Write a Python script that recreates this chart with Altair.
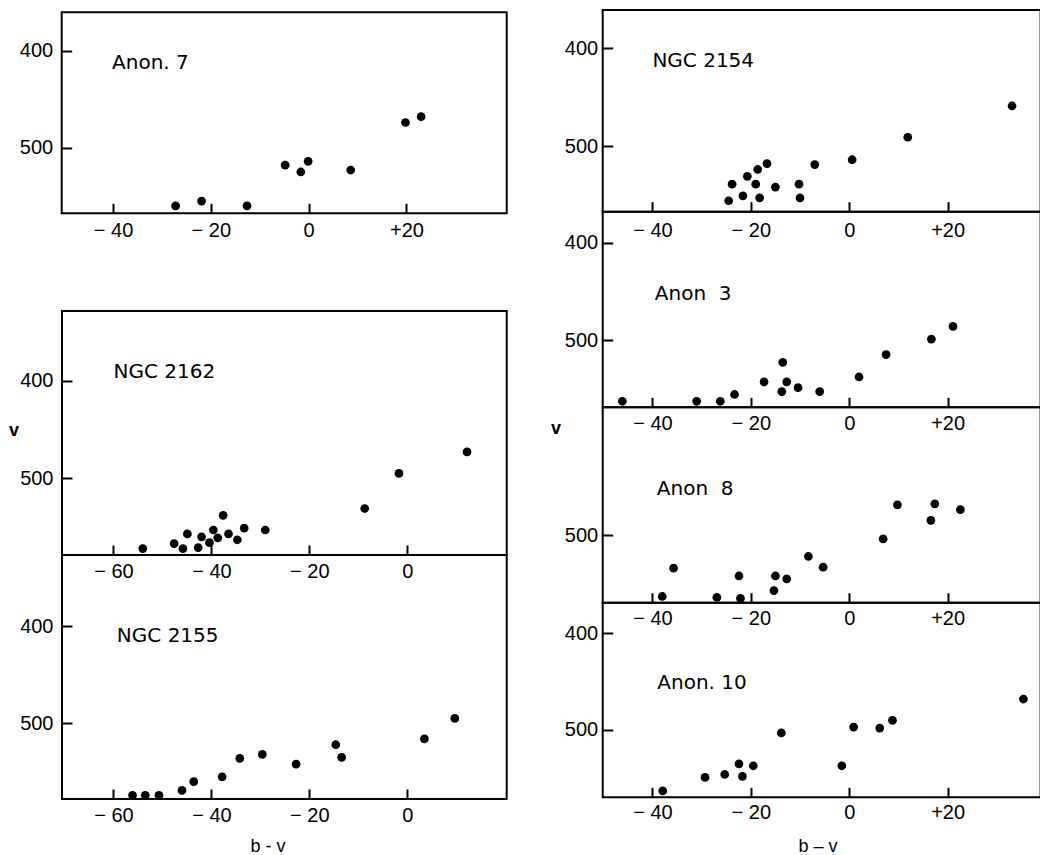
import altair as alt
import pandas as pd

# ---------------- data ----------------
panel_names = ["Anon. 7", "NGC 2162", "NGC 2155", "NGC 2154", "Anon\u00a0 3", "Anon\u00a0 8", "Anon. 10"]

anon7_bv = [-27.2, -21.9, -12.6, -4.8, -1.6, -0.1, 8.6, 19.8, 23.0]
anon7_v = [560, 555, 560, 518, 525, 514, 523, 474, 468]

ngc2162_bv = [-54.0, -47.6, -45.8, -44.9, -42.7, -42.0, -40.4, -39.6, -38.7,
              -37.6, -36.5, -34.7, -33.3, -29.0, -8.7, -1.7, 12.2]
ngc2162_v = [572, 567, 572, 557, 571, 560, 566, 553, 561,
             538, 557, 563, 551, 553, 531, 495, 473]

ngc2155_bv = [-56.1, -53.5, -50.7, -46.0, -43.6, -37.8, -34.2, -29.6, -22.7,
              -14.6, -13.4, 3.5, 9.7]
ngc2155_v = [574, 574, 574, 569, 560, 555, 536, 532, 542, 522, 535, 516, 495]

ngc2154_bv = [-24.5, -23.8, -21.6, -20.7, -19.0, -18.6, -18.2, -16.7, -15.0,
              -10.2, -10.0, -7.0, 0.6, 11.9, 33.1]
ngc2154_v = [556, 539, 551, 531, 539, 524, 553, 518, 542, 539, 553, 519, 514, 491, 459]

anon3_bv = [-46.1, -31.0, -26.2, -23.3, -17.3, -13.5, -13.7, -12.7, -10.4,
            -6.0, 2.0, 7.5, 16.7, 21.1]
anon3_v = [563, 563, 563, 556, 543, 523, 553, 543, 549, 553, 538, 515, 499, 486]

anon8_bv = [-38.0, -35.7, -26.9, -22.4, -22.1, -15.3, -15.0, -12.7, -8.3,
            -5.3, 6.9, 9.8, 16.6, 17.4, 22.6]
anon8_v = [563, 534, 564, 542, 565, 557, 542, 545, 522, 533, 504, 469, 485, 468, 474]

anon10_bv = [-37.9, -29.3, -25.3, -22.4, -21.7, -19.5, -13.8, -1.5, 0.9, 6.2, 8.8, 35.4]
anon10_v = [563, 549, 546, 535, 548, 537, 503, 537, 497, 498, 490, 468]

ticks_x_a = [-40, -20, 0, 20]
ticks_x_b = [-60, -40, -20, 0]
ticks_v = [400, 500]
ticks_v_b = [500]

# ---------------- layout (pixels of the page) ----------------
W, H = 1040, 855
TICK_FONT = "Liberation Sans"
NAME_FONT = "DejaVu Sans"
NB = "\u00a0"
LABEL_EXPR = (
    "datum.value < 0 ? '\u2212 ' + abs(datum.value) + '" + NB * 3 + "' : "
    "(datum.value > 0 ? '+' + datum.value + '" + NB * 2 + "' : '0')"
)

panels = [
    dict(bv=anon7_bv, v=anon7_v, name=0, xdom=[-50.5, 40.5], xr=[61.7, 506.7],
         vdom=[360.4, 567.6], yr=[12.3, 213.3], xt=ticks_x_a, yt=ticks_v,
         lx=-40.2, lv=413, ypad=9, xpad=7),
    dict(bv=ngc2162_bv, v=ngc2162_v, name=1, xdom=[-70.5, 20.3], xr=[62.0, 506.7],
         vdom=[328.6, 578.6], yr=[311.0, 555.0], xt=ticks_x_b, yt=ticks_v,
         lx=-60.0, lv=391, ypad=9, xpad=6),
    dict(bv=ngc2155_bv, v=ngc2155_v, name=2, xdom=[-70.5, 20.3], xr=[62.0, 506.7],
         vdom=[327.0, 577.8], yr=[555.0, 799.0], xt=ticks_x_b, yt=ticks_v,
         lx=-59.3, lv=410, ypad=9, xpad=6),
    dict(bv=ngc2154_bv, v=ngc2154_v, name=3, xdom=[-50.1, 38.9], xr=[602.7, 1040.6],
         vdom=[360.8, 567.2], yr=[10.0, 211.7], xt=ticks_x_a, yt=ticks_v,
         lx=-40.0, lv=413.5, ypad=5, xpad=9),
    dict(bv=anon3_bv, v=anon3_v, name=4, xdom=[-50.1, 38.9], xr=[602.7, 1040.6],
         vdom=[368.0, 569.2], yr=[211.7, 407.3], xt=ticks_x_a, yt=ticks_v,
         lx=-39.5, lv=452.5, ypad=5, xpad=6),
    dict(bv=anon8_bv, v=anon8_v, name=5, xdom=[-50.1, 38.9], xr=[602.7, 1040.6],
         vdom=[369.0, 569.4], yr=[407.3, 602.7], xt=ticks_x_a, yt=ticks_v_b,
         lx=-39.1, lv=453, ypad=5, xpad=6),
    dict(bv=anon10_bv, v=anon10_v, name=6, xdom=[-50.1, 38.9], xr=[602.7, 1040.6],
         vdom=[368.4, 569.6], yr=[602.7, 797.3], xt=ticks_x_a, yt=ticks_v,
         lx=-39.0, lv=451.7, ypad=5, xpad=5),
]


def make_panel(p):
    xsc = alt.Scale(domain=p["xdom"], range=p["xr"], nice=False, zero=False)
    ysc = alt.Scale(domain=p["vdom"], range=p["yr"], nice=False, zero=False)
    xax = alt.Axis(orient="bottom", values=p["xt"], offset=p["yr"][1] - 10 - H,
                   tickSize=10, tickWidth=2, tickColor="black", domain=False, grid=False,
                   labelExpr=LABEL_EXPR, labelFont=TICK_FONT, labelFontSize=20,
                   labelColor="black", labelPadding=p["xpad"], labelFlush=False,
                   labelOverlap=False, title=None)
    yax = alt.Axis(orient="left", values=p["yt"], offset=-(p["xr"][0] + 10),
                   tickSize=10, tickWidth=2, tickColor="black", domain=False, grid=False,
                   format="d", labelFont=TICK_FONT, labelFontSize=20,
                   labelColor="black", labelPadding=p["ypad"], labelFlush=False,
                   labelOverlap=False, title=None)

    pts_df = pd.DataFrame({"bv": p["bv"], "v": p["v"]})
    pts = alt.Chart(pts_df).mark_circle(size=76, color="black", opacity=1).encode(
        x=alt.X("bv:Q", scale=xsc, axis=xax),
        y=alt.Y("v:Q", scale=ysc, axis=yax))

    box_df = pd.DataFrame({"x0": [p["xdom"][0]], "x1": [p["xdom"][1]],
                           "v0": [p["vdom"][0]], "v1": [p["vdom"][1]]})
    box = alt.Chart(box_df).mark_rect(fill="white", fillOpacity=0, stroke="black",
                                      strokeWidth=2).encode(
        x=alt.X("x0:Q", scale=xsc, axis=xax), x2="x1:Q",
        y=alt.Y("v0:Q", scale=ysc, axis=yax), y2="v1:Q")

    lab_df = pd.DataFrame({"bv": [p["lx"]], "v": [p["lv"]],
                           "t": [panel_names[p["name"]]]})
    lab = alt.Chart(lab_df).mark_text(align="left", baseline="middle", font=NAME_FONT,
                                      fontSize=20, color="black").encode(
        x=alt.X("bv:Q", scale=xsc, axis=xax),
        y=alt.Y("v:Q", scale=ysc, axis=yax),
        text="t:N")
    return alt.layer(pts, box, lab)


layers = [make_panel(p) for p in panels]


def note(txt, x, y, size, weight="normal", baseline="middle"):
    return alt.Chart(pd.DataFrame({"t": [txt]})).mark_text(
        align="center", baseline=baseline, font=TICK_FONT, fontSize=size,
        fontWeight=weight, color="black").encode(
        x=alt.value(x), y=alt.value(y), text="t:N")


layers += [
    note("v", 14, 431, 18, "bold"),
    note("v", 556, 429, 18, "bold"),
    note("b - v", 268, 852, 18, baseline="alphabetic"),
    note("b \u2013 v", 818, 852, 18, baseline="alphabetic"),
]

chart = alt.layer(*layers).resolve_scale(x="independent", y="independent").properties(
    width=W, height=H, padding=0,
    autosize=alt.AutoSizeParams(type="none"),
    background="white",
).configure_view(stroke=None)

chart.save("out.html", embed_options={"renderer": "svg", "actions": False})
